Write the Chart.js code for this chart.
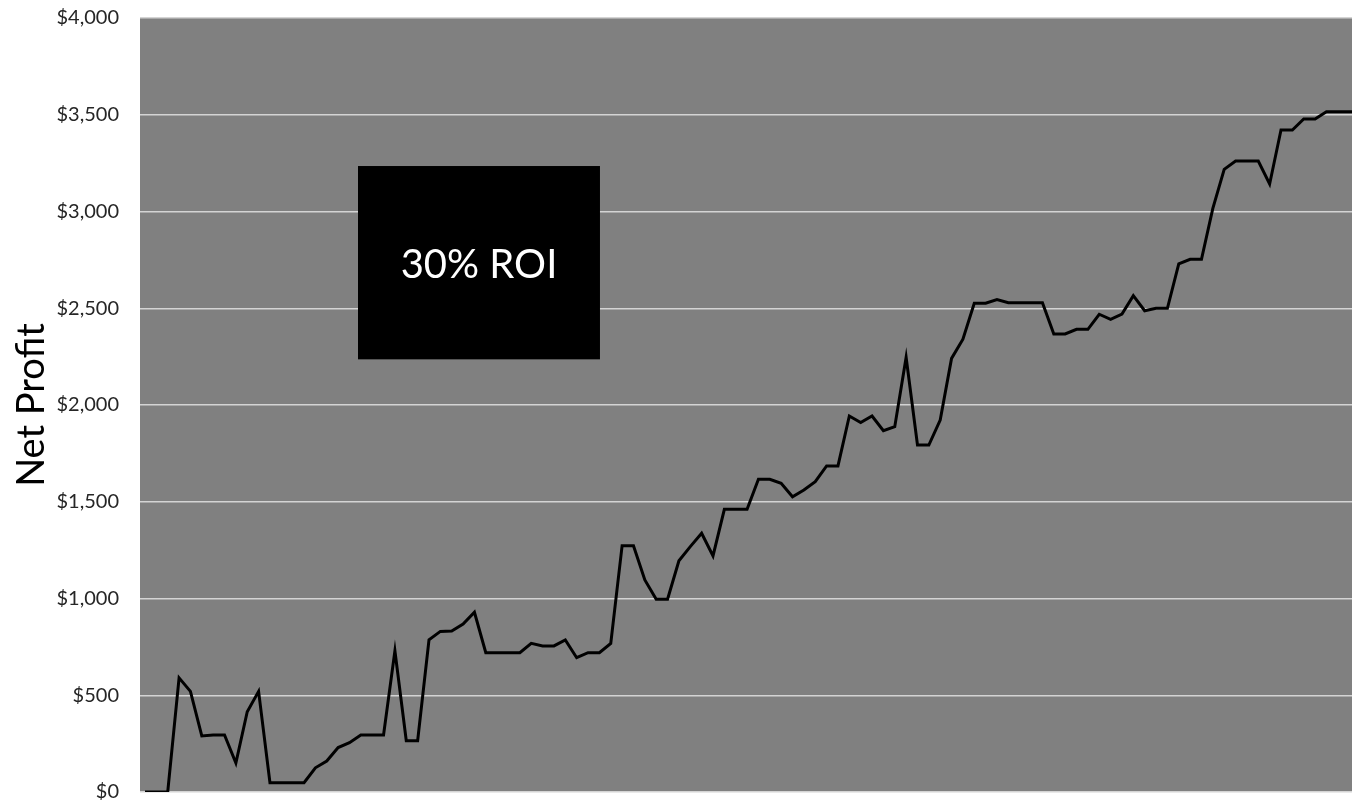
<!DOCTYPE html>
<html>
<head>
<meta charset="utf-8">
<script src="https://cdn.jsdelivr.net/npm/chart.js@4/dist/chart.umd.min.js"></script>
<style>
  html, body { margin: 0; padding: 0; background: #fff; }
  #wrap { width: 1352px; height: 806px; }
</style>
</head>
<body>
<div id="wrap"><canvas id="profitChart"></canvas></div>
<script>
// cumulative net profit after each trade
const netProfit = [
  0, 0, 0, 590, 520, 290, 295, 295, 150, 415,
  520, 48, 48, 48, 48, 125, 160, 230, 255, 295,
  295, 295, 730, 265, 265, 786, 830, 832, 868, 929,
  720, 720, 720, 720, 768, 755, 755, 786, 694, 720,
  720, 768, 1273, 1273, 1096, 996, 996, 1195, 1268, 1337,
  1220, 1461, 1461, 1461, 1616, 1616, 1595, 1526, 1561, 1604,
  1685, 1685, 1943, 1909, 1943, 1867, 1888, 2246, 1793, 1793,
  1922, 2241, 2340, 2526, 2526, 2545, 2529, 2529, 2529, 2529,
  2367, 2367, 2391, 2391, 2469, 2443, 2470, 2565, 2487, 2500,
  2500, 2729, 2753, 2753, 3016, 3218, 3261, 3261, 3261, 3142,
  3421, 3421, 3478, 3478, 3516, 3516, 3516, 3516
];
const trades = netProfit.map((v, i) => i);
const yTicks = [0, 500, 1000, 1500, 2000, 2500, 3000, 3500, 4000];
const roiLabel = "30% ROI";
// box corners in data units (trade index, dollars)
const roiBoxX = [18.75, 40.05];
const roiBoxY = [3235, 2236];

const plotBg = {
  id: "plotBg",
  beforeDraw(chart) {
    const { ctx, chartArea: a } = chart;
    ctx.save();
    ctx.fillStyle = "#808080";
    ctx.fillRect(a.left, a.top, a.right - a.left, a.bottom - a.top);
    ctx.restore();
  }
};

const roiBox = {
  id: "roiBox",
  afterDatasetsDraw(chart) {
    const { ctx, scales: { x, y } } = chart;
    const x1 = x.getPixelForValue(roiBoxX[0]), x2 = x.getPixelForValue(roiBoxX[1]);
    const y1 = y.getPixelForValue(roiBoxY[0]), y2 = y.getPixelForValue(roiBoxY[1]);
    ctx.save();
    ctx.fillStyle = "#000";
    ctx.fillRect(x1, y1, x2 - x1, y2 - y1);
    ctx.fillStyle = "#fff";
    ctx.font = "40px Lato";
    ctx.textAlign = "center";
    ctx.textBaseline = "middle";
    ctx.fillText(roiLabel, (x1 + x2) / 2, (y1 + y2) / 2 + 2);
    ctx.restore();
  }
};

new Chart(document.getElementById("profitChart"), {
  type: "line",
  data: {
    datasets: [{
      label: "Net Profit",
      data: trades.map((t, i) => ({ x: t, y: netProfit[i] })),
      borderColor: "#000",
      borderWidth: 3,
      borderJoinStyle: "miter",
      pointRadius: 0,
      tension: 0,
      fill: false
    }]
  },
  options: {
    responsive: true,
    maintainAspectRatio: false,
    animation: false,
    layout: { padding: { top: 18, bottom: 14, left: 0, right: 0 } },
    plugins: { legend: { display: false }, tooltip: { enabled: false } },
    scales: {
      x: {
        type: "linear",
        min: -0.44,
        max: 106.25,
        display: false
      },
      y: {
        min: 0,
        max: 4000,
        afterBuildTicks(scale) { scale.ticks = yTicks.map(v => ({ value: v })); },
        afterFit(scale) {
          scale.width = 140;
          scale.paddingTop = 0;
          scale.paddingBottom = 0;
        },
        border: { display: false },
        grid: { color: "#d4d4d4", lineWidth: 1.5, drawTicks: false },
        ticks: {
          padding: 21,
          color: "#262626",
          font: { family: "Lato", size: 20 },
          callback: v => "$" + v.toLocaleString("en-US")
        },
        title: {
          display: true,
          text: "Net Profit",
          color: "#000",
          font: { family: "Lato", size: 38 },
          padding: { top: 9, bottom: 0 }
        }
      }
    }
  },
  plugins: [plotBg, roiBox]
});
</script>
</body>
</html>
